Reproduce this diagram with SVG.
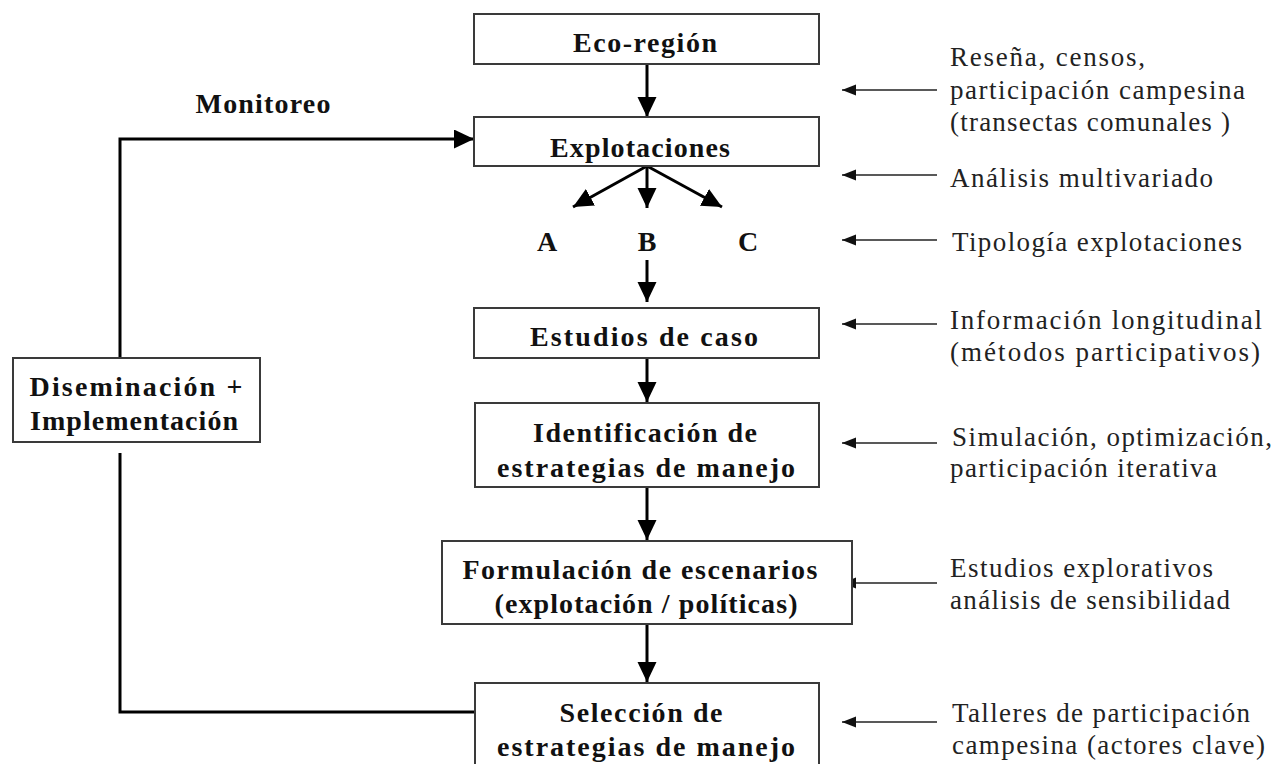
<svg xmlns="http://www.w3.org/2000/svg" width="1274" height="764" viewBox="0 0 1274 764">
<style>
.box{fill:#fff;stroke:#3a3a3a;stroke-width:2}
.b{font-family:"Liberation Serif","Times New Roman",serif;font-weight:bold;font-size:28px;fill:#111;text-anchor:middle}
.r{font-family:"Liberation Serif","Times New Roman",serif;font-size:27px;fill:#222}
.main{stroke:#000;stroke-width:3;fill:none}
.thin{stroke:#222;stroke-width:1.6;fill:none}
</style>
<defs>
<marker id="ah" markerUnits="userSpaceOnUse" markerWidth="22" markerHeight="20" refX="20" refY="9.5" orient="auto"><path d="M0,0 L20,9.5 L0,19 z" fill="#000"/></marker>
<marker id="sh" markerUnits="userSpaceOnUse" markerWidth="15" markerHeight="12" refX="14" refY="5.5" orient="auto"><path d="M0,0 L14,5.5 L0,11 z" fill="#111"/></marker>
</defs>
<rect width="1274" height="764" fill="#fff"/>

<g id="connectors">
<line class="main" x1="647" y1="64" x2="647" y2="117" marker-end="url(#ah)"/>
<line class="main" x1="647" y1="166" x2="573" y2="207" marker-end="url(#ah)"/>
<line class="main" x1="647" y1="166" x2="647" y2="208" marker-end="url(#ah)"/>
<line class="main" x1="647" y1="166" x2="722" y2="207" marker-end="url(#ah)"/>
<line class="main" x1="647" y1="260" x2="647" y2="302" marker-end="url(#ah)"/>
<line class="main" x1="647" y1="358" x2="647" y2="402" marker-end="url(#ah)"/>
<line class="main" x1="647" y1="487" x2="647" y2="540" marker-end="url(#ah)"/>
<line class="main" x1="647" y1="624" x2="647" y2="682" marker-end="url(#ah)"/>
<polyline class="main" points="120,358 120,139 474,139" marker-end="url(#ah)"/>
<polyline class="main" points="120,453 120,712 475,712"/>
<line class="thin" x1="937" y1="90" x2="842" y2="90" marker-end="url(#sh)"/>
<line class="thin" x1="937" y1="175" x2="842" y2="175" marker-end="url(#sh)"/>
<line class="thin" x1="937" y1="240" x2="842" y2="240" marker-end="url(#sh)"/>
<line class="thin" x1="937" y1="324" x2="842" y2="324" marker-end="url(#sh)"/>
<line class="thin" x1="937" y1="443" x2="842" y2="443" marker-end="url(#sh)"/>
<line class="thin" x1="937" y1="583" x2="842" y2="583" marker-end="url(#sh)"/>
<line class="thin" x1="937" y1="722" x2="842" y2="722" marker-end="url(#sh)"/>
</g>

<g id="eco-region"><rect class="box" x="474" y="14" width="345" height="50"/><text class="b" x="645" y="52" textLength="144" lengthAdjust="spacing">Eco-región</text></g>
<g id="explotaciones"><rect class="box" x="474" y="117" width="345" height="49"/><text class="b" x="640" y="157" textLength="180" lengthAdjust="spacing">Explotaciones</text></g>
<g id="tipos">
<text class="b" x="547" y="251">A</text>
<text class="b" x="647" y="251">B</text>
<text class="b" x="748" y="251">C</text>
</g>
<g id="estudios-caso"><rect class="box" x="474" y="308" width="345" height="50"/><text class="b" x="644" y="346" textLength="228" lengthAdjust="spacing">Estudios de  caso</text></g>
<g id="identificacion"><rect class="box" x="475" y="403" width="344" height="84"/>
<text class="b" x="645" y="442" textLength="224" lengthAdjust="spacing">Identificación de</text>
<text class="b" x="646" y="477" textLength="298" lengthAdjust="spacing">estrategias de  manejo</text></g>
<g id="formulacion"><rect class="box" x="442" y="541" width="410" height="83"/>
<text class="b" x="640" y="579" textLength="355" lengthAdjust="spacing">Formulación de escenarios</text>
<text class="b" x="646" y="613" textLength="303" lengthAdjust="spacing">(explotación / políticas)</text></g>
<g id="seleccion"><rect class="box" x="475" y="683" width="344" height="82"/>
<text class="b" x="641" y="722" textLength="163" lengthAdjust="spacing">Selección de</text>
<text class="b" x="646" y="756" textLength="298" lengthAdjust="spacing">estrategias de  manejo</text></g>
<g id="diseminacion"><rect class="box" x="13" y="358" width="247" height="84"/>
<text class="b" x="136" y="396" textLength="213" lengthAdjust="spacing">Diseminación  +</text>
<text class="b" x="134" y="430" textLength="208" lengthAdjust="spacing">Implementación</text></g>
<g id="monitoreo"><text class="b" x="263" y="113" textLength="135" lengthAdjust="spacing">Monitoreo</text></g>

<g id="notas">
<text class="r" x="950" y="66" textLength="195" lengthAdjust="spacing">Reseña,  censos,</text>
<text class="r" x="950" y="99" textLength="295" lengthAdjust="spacing">participación campesina</text>
<text class="r" x="950" y="131" textLength="280" lengthAdjust="spacing">(transectas comunales )</text>
<text class="r" x="950" y="187" textLength="263" lengthAdjust="spacing">Análisis multivariado</text>
<text class="r" x="952" y="251" textLength="290" lengthAdjust="spacing">Tipología explotaciones</text>
<text class="r" x="950" y="329" textLength="312" lengthAdjust="spacing">Información  longitudinal</text>
<text class="r" x="950" y="361" textLength="310" lengthAdjust="spacing">(métodos participativos)</text>
<text class="r" x="952" y="446" textLength="320" lengthAdjust="spacing">Simulación, optimización,</text>
<text class="r" x="950" y="477" textLength="267" lengthAdjust="spacing">participación iterativa</text>
<text class="r" x="950" y="577" textLength="263" lengthAdjust="spacing">Estudios explorativos</text>
<text class="r" x="950" y="609" textLength="280" lengthAdjust="spacing">análisis de sensibilidad</text>
<text class="r" x="952" y="722" textLength="298" lengthAdjust="spacing">Talleres de participación</text>
<text class="r" x="952" y="754" textLength="313" lengthAdjust="spacing">campesina (actores clave)</text>
</g>
</svg>
